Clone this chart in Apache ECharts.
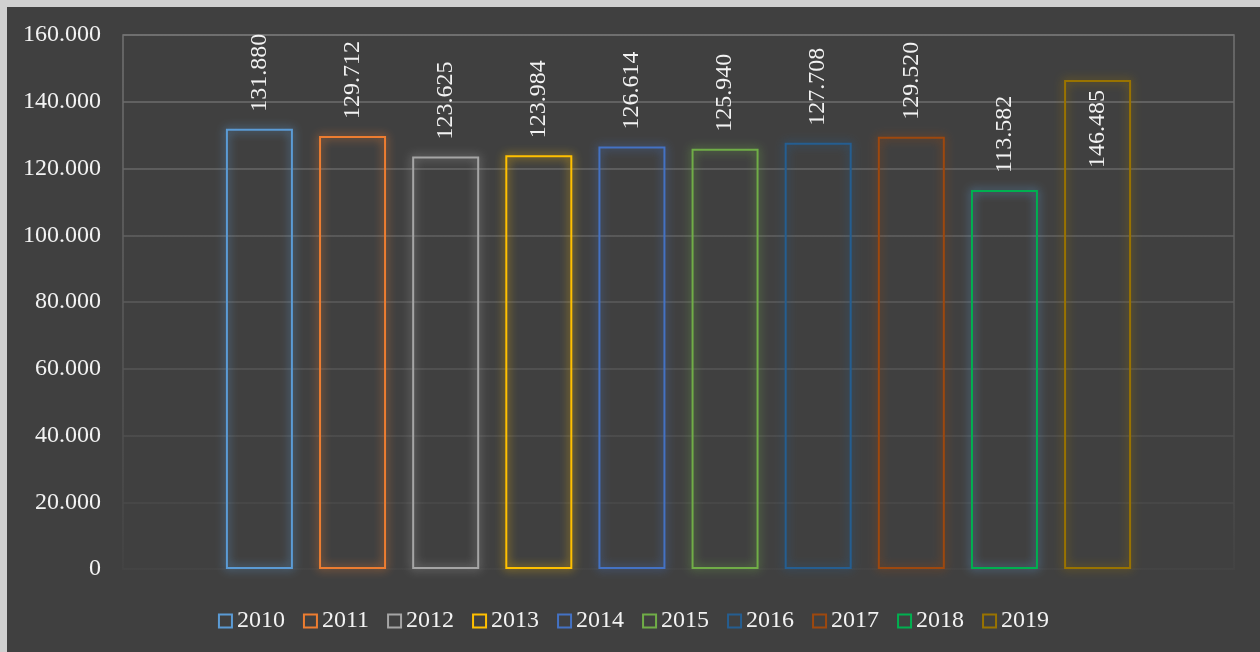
<!DOCTYPE html>
<html>
<head>
<meta charset="utf-8">
<script src="https://cdn.jsdelivr.net/npm/echarts@6/dist/echarts.min.js"></script>
<style>
  html, body { margin: 0; padding: 0; background: #d0d0d0; overflow: hidden; }
  #chart { position: absolute; left: 7px; top: 7px; width: 1253px; height: 645px; background: #404040; }
</style>
</head>
<body>
<div id="chart"></div>
<script>
// data
var years = ['2010', '2011', '2012', '2013', '2014', '2015', '2016', '2017', '2018', '2019']
var values = [131880, 129712, 123625, 123984, 126614, 125940, 127708, 129520, 113582, 146485]
var yTicks = [0, 20000, 40000, 60000, 80000, 100000, 120000, 140000, 160000]

var palette = ['#5B9BD5', '#ED7D31', '#A5A5A5', '#FFC000', '#4472C4', '#70AD47', '#255E91', '#9E480E', '#00B050', '#997300']
var glow = ['#5B9BD5', '#ED7D31', '#A5A5A5', '#FFC000', '#4472C4', '#70AD47', '#255E91', '#9E480E', '#5B9BD5', '#997300']

function fmt(v) {
  return String(Math.round(v)).replace(/\B(?=(\d{3})+(?!\d))/g, '.')
}

var chart = echarts.init(document.getElementById('chart'))
var font = '"Liberation Serif", "Times New Roman", serif'

// gridlines fade out towards the bottom
var fade = new echarts.graphic.LinearGradient(0, 28, 0, 562, [
  { offset: 0, color: '#727272' },
  { offset: 1, color: '#444444' }
], true)

var series = years.map(function (y, i) {
  var tall = values[i] > 140000
  return {
    name: y,
    type: 'bar',
    data: [values[i]],
    barWidth: 67,
    barGap: '39%',
    itemStyle: {
      color: 'rgba(0,0,0,0)',
      borderColor: palette[i],
      borderWidth: 2,
      shadowBlur: 10,
      shadowColor: glow[i]
    },
    label: {
      show: true,
      rotate: 90,
      position: tall ? 'insideTop' : 'top',
      align: tall ? 'right' : 'left',
      verticalAlign: 'middle',
      distance: tall ? 10 : 17,
      color: '#f2f2f2',
      fontFamily: font,
      fontSize: 24,
      formatter: function (p) { return fmt(p.value) }
    }
  }
})

chart.setOption({
  animation: false,
  grid: {
    left: 116,
    top: 28,
    right: 26,
    bottom: 83,
    show: true,
    borderColor: fade,
    borderWidth: 1.5
  },
  legend: {
    bottom: 14,
    left: 'center',
    icon: 'rect',
    itemWidth: 13,
    itemHeight: 13,
    itemGap: 18,
    itemStyle: { color: 'rgba(0,0,0,0)', borderWidth: 2, shadowBlur: 0 },
    textStyle: { color: '#f2f2f2', fontFamily: font, fontSize: 24 },
    data: years
  },
  xAxis: {
    type: 'category',
    data: [''],
    axisLine: { show: false },
    axisTick: { show: false },
    axisLabel: { show: false }
  },
  yAxis: {
    type: 'value',
    min: yTicks[0],
    max: yTicks[yTicks.length - 1],
    interval: yTicks[1] - yTicks[0],
    axisLine: { show: false },
    axisTick: { show: false },
    axisLabel: {
      color: '#f2f2f2',
      fontFamily: font,
      fontSize: 24,
      margin: 22,
      formatter: fmt
    },
    splitLine: { lineStyle: { color: fade, width: 1.5 } }
  },
  series: series
})
</script>
</body>
</html>
